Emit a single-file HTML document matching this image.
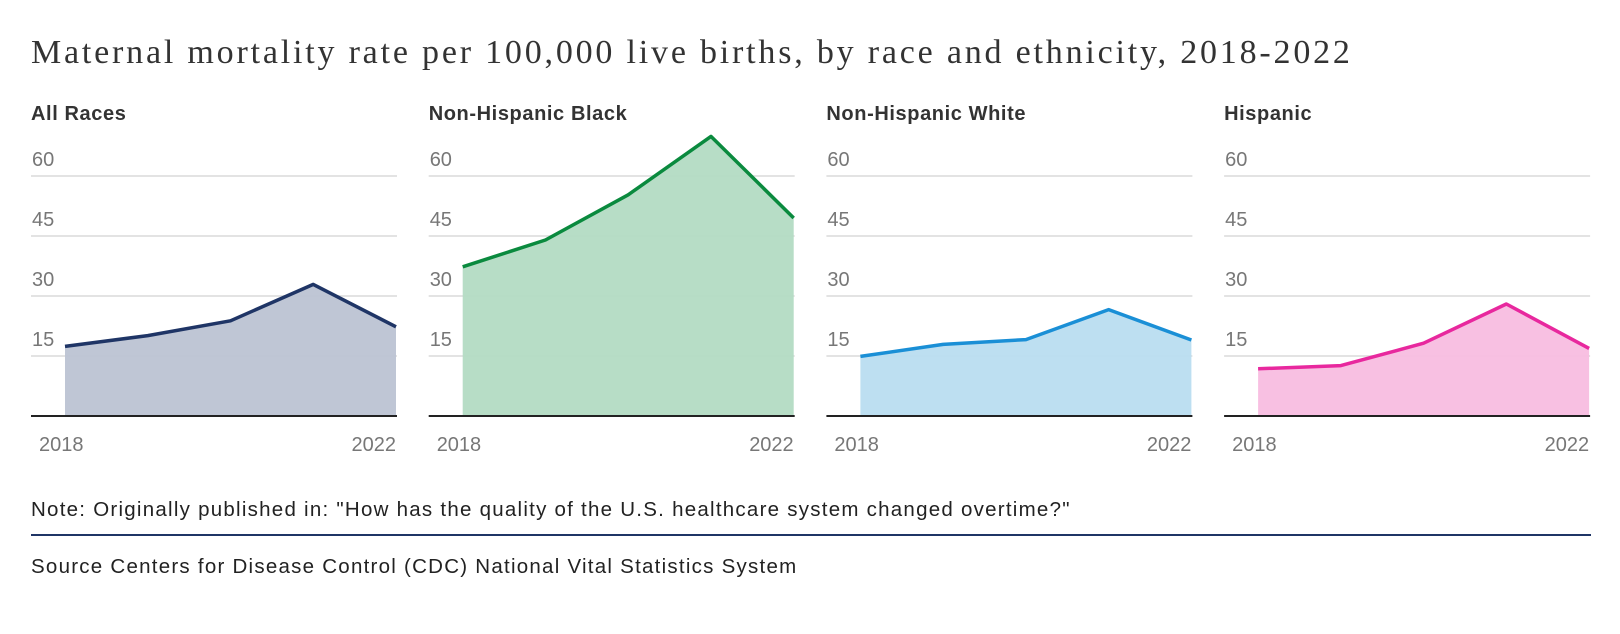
<!DOCTYPE html>
<html><head><meta charset="utf-8"><style>
body{margin:0;background:#fff;width:1620px;height:634px;overflow:hidden;font-family:"Liberation Sans",sans-serif;}
#title{position:absolute;left:31px;top:34px;font-family:"Liberation Serif",serif;font-size:34px;letter-spacing:2.8px;color:#333;white-space:nowrap;}
.note{position:absolute;left:31px;font-size:20.5px;letter-spacing:1.25px;color:#222;white-space:nowrap;}
#rule{position:absolute;left:31px;top:534px;width:1560px;height:2px;background:#1f3566;}
</style></head><body>
<div id="title">Maternal mortality rate per 100,000 live births, by race and ethnicity, 2018-2022</div>
<svg id="chart" width="1620" height="480" style="position:absolute;left:0;top:0"></svg>
<div class="note" style="top:498px">Note: Originally published in: "How has the quality of the U.S. healthcare system changed overtime?"</div>
<div id="rule"></div>
<div class="note" style="top:555px">Source Centers for Disease Control (CDC) National Vital Statistics System</div>
<script>
const years=[2018,2019,2020,2021,2022];
const groups=["All Races","Non-Hispanic Black","Non-Hispanic White","Hispanic"];
const allRaces=[17.4,20.1,23.8,32.9,22.3];
const nhBlack=[37.3,44.0,55.3,69.9,49.5];
const nhWhite=[14.9,17.9,19.1,26.6,19.0];
const hispanic=[11.8,12.6,18.2,28.0,16.9];
const yTicks=[15,30,45,60];
const xTickLabels=["2018","2022"];
const series=[allRaces,nhBlack,nhWhite,hispanic];
const lineColors=["#1f3566","#0a8a3e","#1a8fd6","#e8289e"];
const fillColors=["#bcc3d3","#b3dbc3","#b9ddf0","#f8bde0"];
const NS="http://www.w3.org/2000/svg";
const svg=document.getElementById('chart');
const base=416,unit=60/15;
function y(v){return base-v*unit;}
function mk(t,a,p){const e=document.createElementNS(NS,t);for(const k in a)e.setAttribute(k,a[k]);(p||svg).appendChild(e);return e;}
groups.forEach((g,i)=>{
  const left=31+i*397.7, right=left+366, dl=left+34, dr=right-1;
  const x=j=>dl+(dr-dl)*(years[j]-years[0])/(years[years.length-1]-years[0]);
  const G=mk('g',{});
  
  
  const t=mk('text',{x:left,y:120,'font-size':20,'font-weight':'bold',fill:'#333','letter-spacing':0.6},G);t.textContent=g;
  
  
  yTicks.forEach(v=>{
    const l=mk('line',{x1:left,x2:right,y1:y(v),y2:y(v),stroke:'#e3e3e3','stroke-width':2},G);
    
    
    const tl=mk('text',{x:left+1,y:y(v)-10,'font-size':20,fill:'#777'},G);tl.textContent=v;
    
    
  });
  const d=series[i];
  let pts=d.map((v,j)=>x(j)+','+y(v));
  const a=mk('polygon',{points:dl+','+base+' '+pts.join(' ')+' '+dr+','+base,fill:fillColors[i],'fill-opacity':0.95},G);
  
  
  const ln=mk('polyline',{points:pts.join(' '),fill:'none',stroke:lineColors[i],'stroke-width':3.5,'stroke-linejoin':'round'},G);
  
  
  const ax=mk('line',{x1:left,x2:right,y1:base,y2:base,stroke:'#222','stroke-width':2},G);
  
  
  const x0=mk('text',{x:left+8,y:451,'font-size':20,fill:'#777'},G);x0.textContent=xTickLabels[0];
  
  
  const x1=mk('text',{x:right-1,y:451,'font-size':20,fill:'#777','text-anchor':'end'},G);x1.textContent=xTickLabels[1];
  
  
});
</script>
</body></html>
